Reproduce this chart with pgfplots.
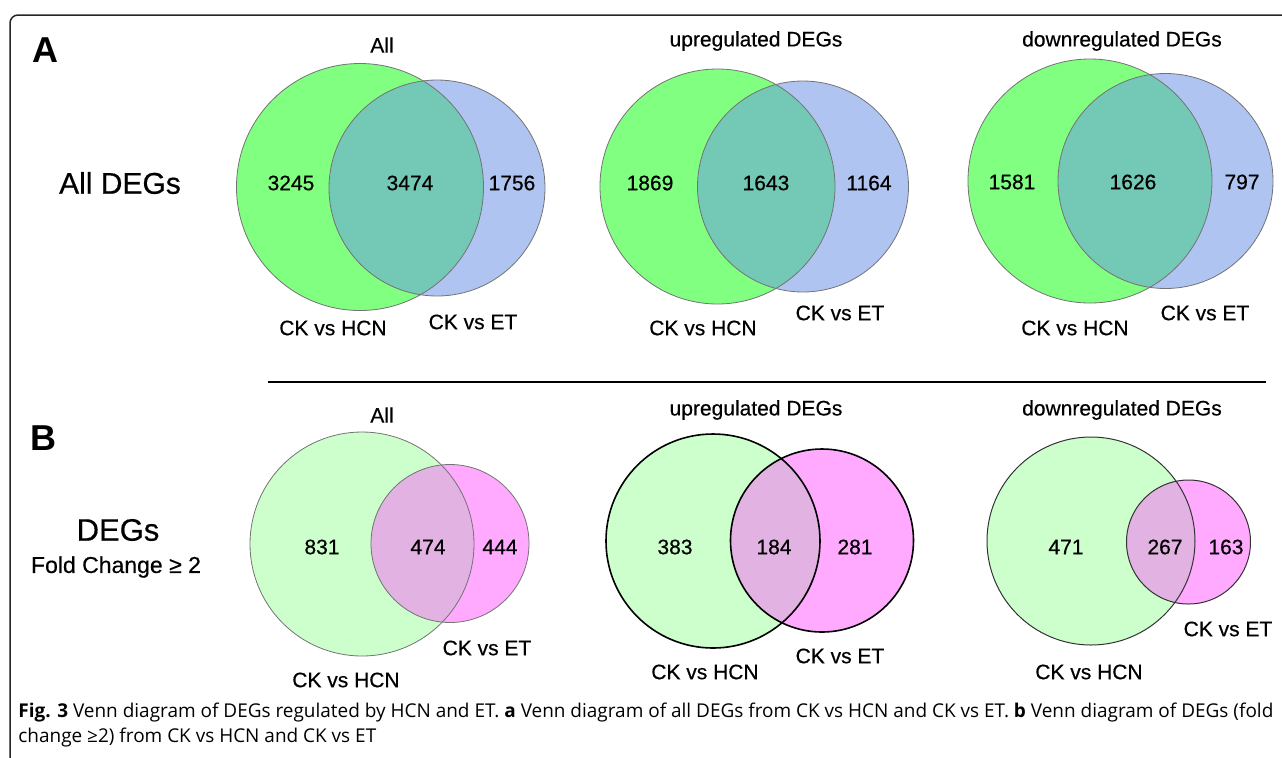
\documentclass[border=0pt]{standalone}
\usepackage{fontspec}
\setmainfont{Liberation Sans}
\newfontfamily\lab{Liberation Sans}[FakeBold=0.5]
\newfontfamily\capfont{Open Sans}
\usepackage{pgfplots}
\pgfplotsset{compat=1.18}
\usepackage{pgfplotstable}
\definecolor{gA}{RGB}{128,255,128}
\definecolor{bA}{RGB}{176,196,242}
\definecolor{iA}{RGB}{115,200,182}
\definecolor{gB}{RGB}{204,255,204}
\definecolor{pB}{RGB}{255,170,255}
\definecolor{iB}{RGB}{226,178,226}

% #1,#2,#3 first circle (x,y,r in px); #4,#5,#6 second; #7 #8 #9 fills
\newcommand{\venn}[9]{%
  \fill[#7] (axis cs:#1,#2) circle[radius=#3*0.5pt];
  \fill[#8] (axis cs:#4,#5) circle[radius=#6*0.5pt];
  \begin{scope}
    \clip (axis cs:#1,#2) circle[radius=#3*0.5pt];
    \fill[#9] (axis cs:#4,#5) circle[radius=#6*0.5pt];
  \end{scope}}
\newcommand{\vennline}[7]{%
  \draw[#7] (axis cs:#1,#2) circle[radius=#3*0.5pt];
  \draw[#7] (axis cs:#4,#5) circle[radius=#6*0.5pt];}

\pgfplotstableread{
x y n
291 183 3245
410 183 3474
512 183 1756
650 183 1869
766 183 1643
869 183 1164
1012 182 1581
1133 182 1626
1242 182 797
322 547 831
428 547 474
500 547 444
675 547 383
774 547 184
855 547 281
1066 547 471
1165 547 267
1226 547 163
}\counts

\newlength\capw
\newcommand{\capone}{\textbf{Fig. 3} Venn diagram of DEGs regulated by HCN and ET. \textbf{a} Venn diagram of all DEGs from CK vs HCN and CK vs ET. \textbf{b} Venn diagram of DEGs (fold}
\newcommand{\captwo}{change ≥2) from CK vs HCN and CK vs ET}

\begin{document}%
\settowidth\capw{\capfont\fontsize{9.5}{11}\selectfont\capone}%
\pgfmathsetmacro\capsx{627.5/\capw}%
\begin{tikzpicture}
\begin{axis}[name=ax,
  width=641pt, height=378.5pt, scale only axis,
  xmin=0, xmax=1282, ymin=0, ymax=757, y dir=reverse,
  hide axis, clip=false]

% frame
\draw[line width=0.75pt, black!85, rounded corners=4pt]
  (axis cs:10,800) -- (axis cs:10,15) -- (axis cs:1320,15);
% separator
\draw[line width=1pt, black] (axis cs:268,382) -- (axis cs:1266,382);

% Panel A
\venn{360}{187}{123.5}{437}{188}{108}{gA}{bA}{iA}
\vennline{360}{187}{123.5}{437}{188}{108}{black!55, line width=0.4pt}
\venn{717.5}{186.5}{117.5}{803}{186.5}{105.5}{gA}{bA}{iA}
\vennline{717.5}{186.5}{117.5}{803}{186.5}{105.5}{black!55, line width=0.4pt}
\venn{1090}{181}{122}{1165.5}{181}{107.5}{gA}{bA}{iA}
\vennline{1090}{181}{122}{1165.5}{181}{107.5}{black!55, line width=0.4pt}

% Panel B
\venn{362}{544}{112}{450}{543.5}{79}{gB}{pB}{iB}
\vennline{362}{544}{112}{450}{543.5}{79}{black!55, line width=0.4pt}
\venn{713}{541}{107}{822}{540.5}{91.5}{gB}{pB}{iB}
\vennline{713}{541}{107}{822}{540.5}{91.5}{black, line width=0.8pt}
\venn{1091}{541}{104}{1188.5}{542}{62}{gB}{pB}{iB}
\vennline{1091}{541}{104}{1188.5}{542}{62}{black!80, line width=0.5pt}

% labels
\node[font=\fontsize{18}{20}\selectfont\bfseries] at (axis cs:45,50) {A};
\node[font=\fontsize{18}{20}\selectfont\bfseries] at (axis cs:43,438) {B};
\node[font=\lab\fontsize{15}{16}\selectfont] at (axis cs:120,183) {All DEGs};
\node[font=\lab\fontsize{15.5}{16}\selectfont] at (axis cs:118,530) {DEGs};
\node[font=\lab\fontsize{11.5}{12}\selectfont] at (axis cs:116,567) {Fold Change ≥ 2};

\tikzset{tl/.style={font=\lab\fontsize{10.5}{12}\selectfont}}
\node[tl] at (axis cs:382,45) {All};
\node[tl] at (axis cs:756,41) {upregulated DEGs};
\node[tl] at (axis cs:1122,41) {downregulated DEGs};
\node[tl] at (axis cs:382,415) {All};
\node[tl] at (axis cs:756,410) {upregulated DEGs};
\node[tl] at (axis cs:1122,410) {downregulated DEGs};

\node[tl] at (axis cs:333,328) {CK vs HCN};
\node[tl] at (axis cs:473,322) {CK vs ET};
\node[tl] at (axis cs:703,328) {CK vs HCN};
\node[tl] at (axis cs:840,313) {CK vs ET};
\node[tl] at (axis cs:1075,328) {CK vs HCN};
\node[tl] at (axis cs:1205,313) {CK vs ET};
\node[tl] at (axis cs:346,680) {CK vs HCN};
\node[tl] at (axis cs:487,648) {CK vs ET};
\node[tl] at (axis cs:705,672) {CK vs HCN};
\node[tl] at (axis cs:840,656) {CK vs ET};
\node[tl] at (axis cs:1089,672) {CK vs HCN};
\node[tl] at (axis cs:1228,629) {CK vs ET};

% caption
\node[anchor=base west, inner sep=0pt] at (axis cs:18,717)
  {\scalebox{\capsx}[1]{\capfont\fontsize{9.5}{11}\selectfont\capone}};
\node[anchor=base west, inner sep=0pt] at (axis cs:18,742)
  {\scalebox{\capsx}[1]{\capfont\fontsize{9.5}{11}\selectfont\captwo}};

% region counts
\addplot[only marks, mark=none, point meta=explicit symbolic,
  nodes near coords,
  nodes near coords style={anchor=center, font=\lab\fontsize{10.5}{12}\selectfont, text=black}]
  table[x=x, y=y, meta=n] {\counts};
\end{axis}
\pgfresetboundingbox
\path (ax.south west) rectangle (ax.north east);
\end{tikzpicture}%
\end{document}
